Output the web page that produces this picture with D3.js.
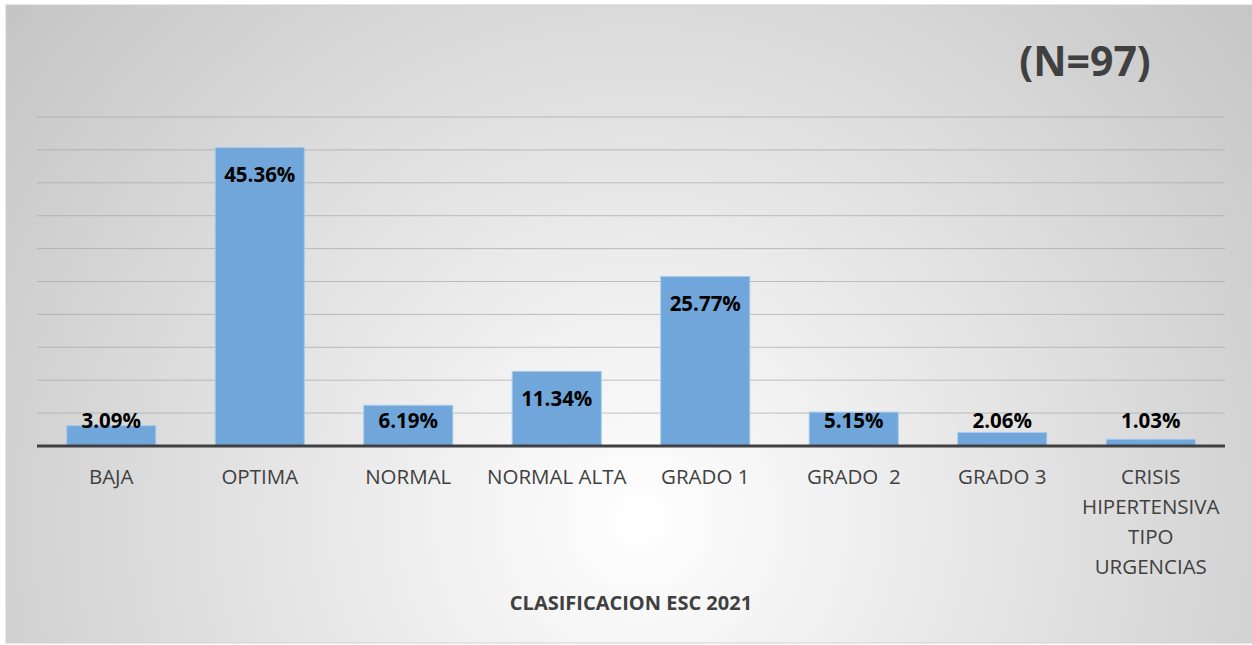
<!DOCTYPE html>
<html>
<head>
<meta charset="utf-8">
<script src="https://cdn.jsdelivr.net/npm/d3@7"></script>
<style>
  body { margin: 0; background: #fff; }
  svg { display: block; font-family: "Open Sans", Lato, sans-serif; }
  text { white-space: pre; }
</style>
</head>
<body>
<svg id="chart" width="1252" height="645"></svg>
<script>
// data
const categories = ['BAJA', 'OPTIMA', 'NORMAL', 'NORMAL ALTA', 'GRADO 1', 'GRADO  2', 'GRADO 3', 'CRISIS HIPERTENSIVA TIPO URGENCIAS']
const categoryLines = [['BAJA'], ['OPTIMA'], ['NORMAL'], ['NORMAL ALTA'], ['GRADO 1'], ['GRADO  2'], ['GRADO 3'], ['CRISIS', 'HIPERTENSIVA', 'TIPO', 'URGENCIAS']]
const percents = [3.09, 45.36, 6.19, 11.34, 25.77, 5.15, 2.06, 1.03]
const yTicks = [0, 5, 10, 15, 20, 25, 30, 35, 40, 45, 50]
const sampleLabel = '(N=97)'
const axisTitle = 'CLASIFICACION ESC 2021'

const svg = d3.select('#chart')

// background with radial gradient
const defs = svg.append('defs')
const grad = defs.append('radialGradient')
  .attr('id', 'bg')
  .attr('gradientUnits', 'userSpaceOnUse')
  .attr('cx', 640).attr('cy', 520).attr('r', 850)
grad.append('stop').attr('offset', '0').attr('stop-color', '#ffffff')
grad.append('stop').attr('offset', '1').attr('stop-color', '#c2c2c2')

svg.append('rect')
  .attr('x', 6).attr('y', 5)
  .attr('width', 1252).attr('height', 638)
  .attr('fill', 'url(#bg)')
  .attr('stroke', '#d0d0d0')

const plot = { left: 37, right: 1225, top: 117, bottom: 446 }

const x = d3.scaleBand()
  .domain(categories)
  .range([plot.left, plot.right])
  .paddingInner(0.4)
  .paddingOuter(0.2)

const y = d3.scaleLinear()
  .domain([0, 50])
  .range([plot.bottom, plot.top])

// gridlines
svg.append('g')
  .selectAll('line')
  .data(yTicks.slice(1))
  .enter()
  .append('line')
  .attr('x1', plot.left)
  .attr('x2', plot.right)
  .attr('y1', d => y(d))
  .attr('y2', d => y(d))
  .attr('stroke', '#a8a8a8')
  .attr('stroke-opacity', 0.7)
  .attr('stroke-width', 1)

// bars
svg.append('g')
  .selectAll('rect')
  .data(percents)
  .enter()
  .append('rect')
  .attr('x', (d, i) => x(categories[i]))
  .attr('y', d => y(d))
  .attr('width', x.bandwidth())
  .attr('height', d => y(0) - y(d))
  .attr('fill', '#70a6da')
  .attr('stroke', '#a9cbec')
  .attr('stroke-width', 1)

// x axis line
svg.append('line')
  .attr('x1', plot.left).attr('x2', plot.right)
  .attr('y1', y(0)).attr('y2', y(0))
  .attr('stroke', '#404040')
  .attr('stroke-width', 3)

// value labels, inside end but kept above the axis
svg.append('g')
  .selectAll('text')
  .data(percents)
  .enter()
  .append('text')
  .attr('x', (d, i) => x(categories[i]) + x.bandwidth() / 2)
  .attr('y', d => Math.min(y(d) + 27, y(0) - 25))
  .attr('dy', '0.35em')
  .attr('text-anchor', 'middle')
  .attr('font-size', 20.5)
  .attr('font-weight', 'bold')
  .attr('fill', '#000')
  .text(d => d.toFixed(2) + '%')

// category labels
const cat = svg.append('g')
  .selectAll('text')
  .data(categoryLines)
  .enter()
  .append('text')
  .attr('text-anchor', 'middle')
  .attr('font-size', 20.5)
  .attr('fill', '#404040')
  .attr('transform', (d, i) => `translate(${x(categories[i]) + x.bandwidth() / 2},${y(0) + 31})`)

cat.selectAll('tspan')
  .data(d => d)
  .enter()
  .append('tspan')
  .attr('x', 0)
  .attr('y', (d, i) => i * 30)
  .attr('dy', '0.35em')
  .text(d => d)

// axis title
svg.append('text')
  .attr('x', (plot.left + plot.right) / 2)
  .attr('y', 603)
  .attr('dy', '0.35em')
  .attr('text-anchor', 'middle')
  .attr('font-size', 20)
  .attr('font-weight', 'bold')
  .attr('fill', '#404040')
  .text(axisTitle)

// sample size
svg.append('text')
  .attr('x', 1085)
  .attr('y', 62)
  .attr('dy', '0.35em')
  .attr('text-anchor', 'middle')
  .attr('font-size', 41)
  .attr('font-weight', 'bold')
  .attr('fill', '#404040')
  .text(sampleLabel)
</script>
</body>
</html>
